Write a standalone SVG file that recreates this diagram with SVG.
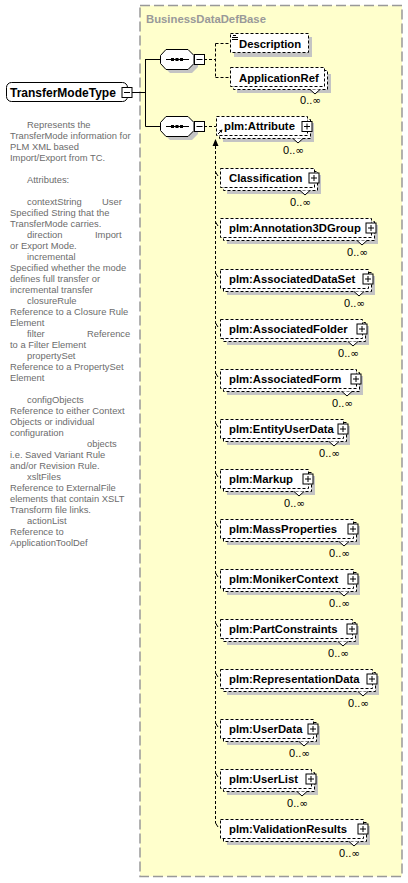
<svg xmlns="http://www.w3.org/2000/svg" width="408" height="883" viewBox="0 0 408 883">
<style>
.lbl{font-family:"Liberation Sans",Arial,sans-serif;font-weight:bold;font-size:11.3px;fill:#000}
.occ{font-family:"Liberation Sans",Arial,sans-serif;font-size:11px;fill:#000;text-anchor:end}
.inf{font-family:"DejaVu Sans",sans-serif;font-size:10.5px}
.doc{font-family:"Liberation Sans",Arial,sans-serif;font-size:9.4px;fill:#6c6c6c}
.ttl{font-family:"Liberation Sans",Arial,sans-serif;font-weight:bold;font-size:11.3px;fill:#999}
.sh{fill:#c4c4c4}
.box{fill:#fff;stroke:#000;stroke-width:1;stroke-dasharray:3 2}
.sol{fill:#fff;stroke:#000;stroke-width:1}
.ln{fill:none;stroke:#000;stroke-width:1}
.dl{fill:none;stroke:#000;stroke-width:1;stroke-dasharray:3 2}
.nt{fill:#fff;stroke:#000;stroke-width:1}
</style>
<defs>
<g id="plus"><rect class="sol" x="-5" y="-5" width="10" height="10"/><path class="ln" d="M-3,0H3M0,-3V3"/></g>
<g id="minus"><rect class="sol" x="-5" y="-5" width="10" height="10"/><path class="ln" d="M-3,0H3"/></g>
<g id="seq"><polygon class="sh" points="170,53 192,53 198,59 198,67 192,73 170,73 164,67 164,59"/><polygon class="sol" points="166,49.5 188,49.5 194,55.5 194,63.5 188,69.5 166,69.5 160.5,63.5 160.5,55.5"/><path class="ln" d="M166,59.5H189"/><rect x="171" y="58" width="3" height="3"/><rect x="175.5" y="58" width="3" height="3"/><rect x="180" y="58" width="3" height="3"/></g>
</defs>
<rect width="408" height="883" fill="#fff"/>
<rect x="140" y="5.5" width="262" height="871" fill="#ffffcc" stroke="#999" stroke-width="1.5" stroke-dasharray="10 4"/>
<text class="ttl" x="146" y="23">BusinessDataDefBase</text>

<g id="documentation">
<text class="doc" x="27" y="127.5">Represents the</text>
<text class="doc" x="10" y="138.5">TransferMode information for</text>
<text class="doc" x="10" y="149.5">PLM XML based</text>
<text class="doc" x="10" y="160.5">Import/Export from TC.</text>
<text class="doc" x="27" y="182.5">Attributes:</text>
<text class="doc" x="27" y="204.5">contextString</text><text class="doc" x="102" y="204.5">User</text>
<text class="doc" x="10" y="215.5">Specified String that the</text>
<text class="doc" x="10" y="226.5">TransferMode carries.</text>
<text class="doc" x="27" y="237.5">direction</text><text class="doc" x="95" y="237.5">Import</text>
<text class="doc" x="10" y="248.5">or Export Mode.</text>
<text class="doc" x="27" y="259.5">incremental</text>
<text class="doc" x="10" y="270.5">Specified whether the mode</text>
<text class="doc" x="10" y="281.5">defines full transfer or</text>
<text class="doc" x="10" y="292.5">incremental transfer</text>
<text class="doc" x="27" y="303.5">closureRule</text>
<text class="doc" x="10" y="314.5">Reference to a Closure Rule</text>
<text class="doc" x="10" y="325.5">Element</text>
<text class="doc" x="27" y="336.5">filter</text><text class="doc" x="87" y="336.5">Reference</text>
<text class="doc" x="10" y="347.5">to a Filter Element</text>
<text class="doc" x="27" y="358.5">propertySet</text>
<text class="doc" x="10" y="369.5">Reference to a PropertySet</text>
<text class="doc" x="10" y="380.5">Element</text>
<text class="doc" x="27" y="402.5">configObjects</text>
<text class="doc" x="10" y="413.5">Reference to either Context</text>
<text class="doc" x="10" y="424.5">Objects or individual</text>
<text class="doc" x="10" y="435.5">configuration</text>
<text class="doc" x="87" y="446.5">objects</text>
<text class="doc" x="10" y="457.5">i.e. Saved Variant Rule</text>
<text class="doc" x="10" y="468.5">and/or Revision Rule.</text>
<text class="doc" x="27" y="479.5">xsltFiles</text>
<text class="doc" x="10" y="490.5">Reference to ExternalFile</text>
<text class="doc" x="10" y="501.5">elements that contain XSLT</text>
<text class="doc" x="10" y="512.5">Transform file links.</text>
<text class="doc" x="27" y="523.5">actionList</text>
<text class="doc" x="10" y="534.5">Reference to</text>
<text class="doc" x="10" y="545.5">ApplicationToolDef</text>
</g>

<g id="connectors">
<path class="ln" d="M132,92.5H145.5M145.5,59V126.5M145.5,59.5H160.5M145.5,126.5H160.5"/>
<path class="dl" d="M204,59.5H215.5M215.5,43.5V77.5M215.5,43.5H230M215.5,77.5H230"/>
<path class="dl" d="M204,126.5H216"/>
<path class="dl" d="M215.5,146V823"/>
<polygon points="215.5,139 212.5,146 218.5,146" fill="#000"/>
<path class="ln" d="M215.5,172L218,176M215.5,222L218,226M215.5,273L218,277M215.5,323L218,327M215.5,373L218,377M215.5,423L218,427M215.5,473L218,477M215.5,523L218,527M215.5,573L218,577M215.5,623L218,627M215.5,673L218,677M215.5,723L218,727M215.5,773L218,777M215.5,823L218,827"/>
</g>

<g id="TransferModeType">
<rect class="sol" x="6.5" y="82.5" width="121" height="19" rx="5"/>
<text class="lbl" x="10" y="96.5" style="font-size:12px">TransferModeType</text>
<use href="#minus" x="127" y="92.5"/>
</g>

<g id="seq1">
<use href="#seq"/>
<use href="#minus" x="199.5" y="59.5"/>
</g>
<g id="seq2">
<use href="#seq" y="67"/>
<use href="#minus" x="199.5" y="126.5"/>
</g>

<g id="Description">
<rect class="sh" x="234" y="37" width="78" height="20"/>
<rect class="box" x="230.5" y="33.5" width="78" height="19"/>
<path class="ln" d="M233,35.5H236M232,37.5H238M232,39.5H238"/>
<text class="lbl" x="239" y="47.5">Description</text>
</g>

<g id="ApplicationRef">
<rect class="sh" x="237" y="74" width="94" height="19"/>
<rect class="box" x="233.5" y="70.5" width="94" height="19"/>
<rect class="box" x="230.5" y="67.5" width="94" height="19"/>
<text class="lbl" x="239" y="81.5">ApplicationRef</text>
<polyline class="nt" points="310,89.5 315,94 320,89.5"/>
<text class="occ" x="321" y="104">0..<tspan class="inf">∞</tspan></text>
</g>

<g id="plm-Attribute">
<rect class="sh" x="223" y="123" width="91" height="19"/>
<rect class="box" x="219.5" y="119.5" width="91" height="19"/>
<rect class="box" x="216.5" y="116.5" width="91" height="19"/>
<path class="ln" d="M218,134L221.5,130.5"/><polygon points="222.5,129.5 219,130.5 221.5,133" fill="#000"/>
<text class="lbl" x="224" y="130">plm:Attribute</text>
<use href="#plus" x="307" y="126.5"/>
<polyline class="nt" points="293,138.5 298,143 303,138.5"/>
<text class="occ" x="304" y="154">0..<tspan class="inf">∞</tspan></text>
</g>

<g id="Classification">
<rect class="sh" x="227" y="175" width="94" height="19"/>
<rect class="box" x="223.5" y="171.5" width="94" height="19"/>
<rect class="box" x="220.5" y="168.5" width="94" height="19"/>
<text class="lbl" x="229" y="182">Classification</text>
<use href="#plus" x="314" y="178"/>
<polyline class="nt" points="300,190.5 305,195 310,190.5"/>
<text class="occ" x="311" y="205.5">0..<tspan class="inf">∞</tspan></text>
</g>

<g id="plm-Annotation3DGroup">
<rect class="sh" x="227" y="225" width="151" height="19"/>
<rect class="box" x="223.5" y="221.5" width="151" height="19"/>
<rect class="box" x="220.5" y="218.5" width="151" height="19"/>
<text class="lbl" x="229" y="232">plm:Annotation3DGroup</text>
<use href="#plus" x="371" y="228"/>
<polyline class="nt" points="357,240.5 362,245 367,240.5"/>
<text class="occ" x="368" y="255.5">0..<tspan class="inf">∞</tspan></text>
</g>

<g id="plm-AssociatedDataSet">
<rect class="sh" x="227" y="276" width="148" height="19"/>
<rect class="box" x="223.5" y="272.5" width="148" height="19"/>
<rect class="box" x="220.5" y="269.5" width="148" height="19"/>
<text class="lbl" x="229" y="283">plm:AssociatedDataSet</text>
<use href="#plus" x="368" y="279"/>
<polyline class="nt" points="354,291.5 359,296 364,291.5"/>
<text class="occ" x="365" y="306.5">0..<tspan class="inf">∞</tspan></text>
</g>

<g id="plm-AssociatedFolder">
<rect class="sh" x="227" y="326" width="142" height="19"/>
<rect class="box" x="223.5" y="322.5" width="142" height="19"/>
<rect class="box" x="220.5" y="319.5" width="142" height="19"/>
<text class="lbl" x="229" y="333">plm:AssociatedFolder</text>
<use href="#plus" x="362" y="329"/>
<polyline class="nt" points="348,341.5 353,346 358,341.5"/>
<text class="occ" x="359" y="356.5">0..<tspan class="inf">∞</tspan></text>
</g>

<g id="plm-AssociatedForm">
<rect class="sh" x="227" y="376" width="136" height="19"/>
<rect class="box" x="223.5" y="372.5" width="136" height="19"/>
<rect class="box" x="220.5" y="369.5" width="136" height="19"/>
<text class="lbl" x="229" y="383">plm:AssociatedForm</text>
<use href="#plus" x="356" y="379"/>
<polyline class="nt" points="342,391.5 347,396 352,391.5"/>
<text class="occ" x="353" y="406.5">0..<tspan class="inf">∞</tspan></text>
</g>

<g id="plm-EntityUserData">
<rect class="sh" x="227" y="426" width="123" height="19"/>
<rect class="box" x="223.5" y="422.5" width="123" height="19"/>
<rect class="box" x="220.5" y="419.5" width="123" height="19"/>
<text class="lbl" x="229" y="433">plm:EntityUserData</text>
<use href="#plus" x="343" y="429"/>
<polyline class="nt" points="329,441.5 334,446 339,441.5"/>
<text class="occ" x="340" y="456.5">0..<tspan class="inf">∞</tspan></text>
</g>

<g id="plm-Markup">
<rect class="sh" x="227" y="476" width="88" height="19"/>
<rect class="box" x="223.5" y="472.5" width="88" height="19"/>
<rect class="box" x="220.5" y="469.5" width="88" height="19"/>
<text class="lbl" x="229" y="483">plm:Markup</text>
<use href="#plus" x="308" y="479"/>
<polyline class="nt" points="294,491.5 299,496 304,491.5"/>
<text class="occ" x="305" y="506.5">0..<tspan class="inf">∞</tspan></text>
</g>

<g id="plm-MassProperties">
<rect class="sh" x="227" y="526" width="133" height="19"/>
<rect class="box" x="223.5" y="522.5" width="133" height="19"/>
<rect class="box" x="220.5" y="519.5" width="133" height="19"/>
<text class="lbl" x="229" y="533">plm:MassProperties</text>
<use href="#plus" x="353" y="529"/>
<polyline class="nt" points="339,541.5 344,546 349,541.5"/>
<text class="occ" x="350" y="556.5">0..<tspan class="inf">∞</tspan></text>
</g>

<g id="plm-MonikerContext">
<rect class="sh" x="227" y="576" width="133" height="19"/>
<rect class="box" x="223.5" y="572.5" width="133" height="19"/>
<rect class="box" x="220.5" y="569.5" width="133" height="19"/>
<text class="lbl" x="229" y="583">plm:MonikerContext</text>
<use href="#plus" x="353" y="579"/>
<polyline class="nt" points="339,591.5 344,596 349,591.5"/>
<text class="occ" x="350" y="606.5">0..<tspan class="inf">∞</tspan></text>
</g>

<g id="plm-PartConstraints">
<rect class="sh" x="227" y="626" width="132" height="19"/>
<rect class="box" x="223.5" y="622.5" width="132" height="19"/>
<rect class="box" x="220.5" y="619.5" width="132" height="19"/>
<text class="lbl" x="229" y="633">plm:PartConstraints</text>
<use href="#plus" x="352" y="629"/>
<polyline class="nt" points="338,641.5 343,646 348,641.5"/>
<text class="occ" x="349" y="656.5">0..<tspan class="inf">∞</tspan></text>
</g>

<g id="plm-RepresentationData">
<rect class="sh" x="227" y="676" width="152" height="19"/>
<rect class="box" x="223.5" y="672.5" width="152" height="19"/>
<rect class="box" x="220.5" y="669.5" width="152" height="19"/>
<text class="lbl" x="229" y="683">plm:RepresentationData</text>
<use href="#plus" x="372" y="679"/>
<polyline class="nt" points="358,691.5 363,696 368,691.5"/>
<text class="occ" x="369" y="706.5">0..<tspan class="inf">∞</tspan></text>
</g>

<g id="plm-UserData">
<rect class="sh" x="227" y="726" width="93" height="19"/>
<rect class="box" x="223.5" y="722.5" width="93" height="19"/>
<rect class="box" x="220.5" y="719.5" width="93" height="19"/>
<text class="lbl" x="229" y="733">plm:UserData</text>
<use href="#plus" x="313" y="729"/>
<polyline class="nt" points="299,741.5 304,746 309,741.5"/>
<text class="occ" x="310" y="756.5">0..<tspan class="inf">∞</tspan></text>
</g>

<g id="plm-UserList">
<rect class="sh" x="227" y="776" width="91" height="19"/>
<rect class="box" x="223.5" y="772.5" width="91" height="19"/>
<rect class="box" x="220.5" y="769.5" width="91" height="19"/>
<text class="lbl" x="229" y="783">plm:UserList</text>
<use href="#plus" x="311" y="779"/>
<polyline class="nt" points="297,791.5 302,796 307,791.5"/>
<text class="occ" x="308" y="806.5">0..<tspan class="inf">∞</tspan></text>
</g>

<g id="plm-ValidationResults">
<rect class="sh" x="227" y="826" width="143" height="19"/>
<rect class="box" x="223.5" y="822.5" width="143" height="19"/>
<rect class="box" x="220.5" y="819.5" width="143" height="19"/>
<text class="lbl" x="229" y="833">plm:ValidationResults</text>
<use href="#plus" x="363" y="829"/>
<polyline class="nt" points="349,841.5 354,846 359,841.5"/>
<text class="occ" x="360" y="856.5">0..<tspan class="inf">∞</tspan></text>
</g>
</svg>
